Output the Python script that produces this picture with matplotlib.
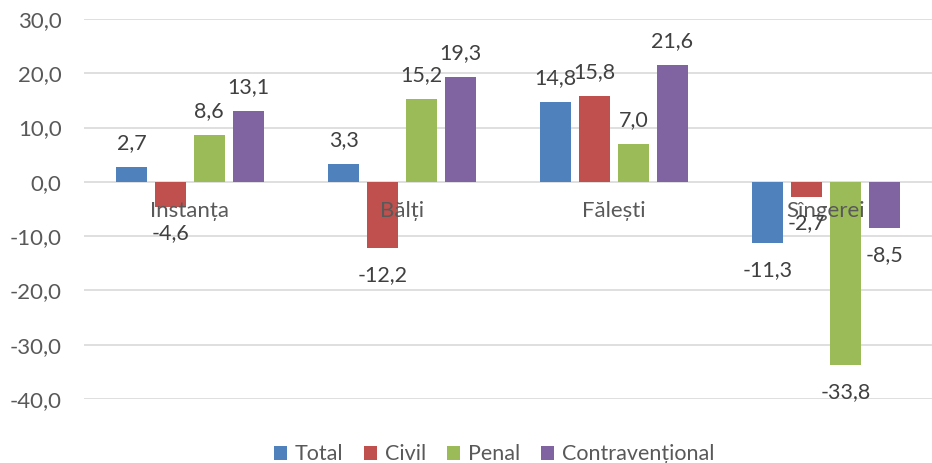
import matplotlib
matplotlib.use("Agg")
import matplotlib.pyplot as plt
import numpy as np

categories = ["Instanța", "Bălți", "Fălești", "Sîngerei"]
series = ["Total", "Civil", "Penal", "Contravențional"]
total = [2.7, 3.3, 14.8, -11.3]
civil = [-4.6, -12.2, 15.8, -2.7]
penal = [8.6, 15.2, 7.0, -33.8]
contrav = [13.1, 19.3, 21.6, -8.5]
colors = ["#4F81BD", "#C0504D", "#9BBB59", "#8064A2"]

plt.rcParams['font.family'] = ['Lato', 'DejaVu Sans']
text_color = "#595959"

fig = plt.figure(figsize=(9.32, 4.63), dpi=100)
ax = fig.add_axes([0.09, 0.138, 0.91, 0.821])

x = np.arange(len(categories))
width = 0.146
step = 0.183
for k, (name, vals) in enumerate(zip(series, [total, civil, penal, contrav])):
    pos = x + (k - 1.5) * step
    ax.bar(pos, vals, width=width, color=colors[k], label=name, zorder=2)
    for px, v in zip(pos, vals):
        ax.annotate(f"{v:.1f}".replace(".", ","), (px, v),
                    xytext=(0, 10 if v >= 0 else -12), textcoords="offset points",
                    ha="center", va="bottom" if v >= 0 else "top",
                    fontsize=15.5, color="#404040", zorder=4)

for i, c in enumerate(categories):
    ax.annotate(c, (i, 0), xytext=(0, -14), textcoords="offset points",
                ha="center", va="top", fontsize=16, color=text_color, zorder=3)

ax.set_xlim(-0.5, 3.5)
ax.set_ylim(-40, 30)
ax.set_yticks(np.arange(-40, 31, 10))
ax.set_yticklabels([f"{t:.1f}".replace(".", ",") for t in np.arange(-40, 31, 10)])
ax.set_xticks([])
ax.tick_params(axis="y", length=0, labelsize=16, labelcolor=text_color, pad=16)
ax.grid(axis="y", color="#D9D9D9", linewidth=1.2, zorder=0)
for s in ax.spines.values():
    s.set_visible(False)

fig.legend(loc="lower center", ncol=4, frameon=False, fontsize=15.5,
           handlelength=0.6, handleheight=0.6, handletextpad=0.35,
           columnspacing=1.0, labelcolor=text_color,
           bbox_to_anchor=(0.53, -0.045))

fig.savefig("out.png", dpi=100)
